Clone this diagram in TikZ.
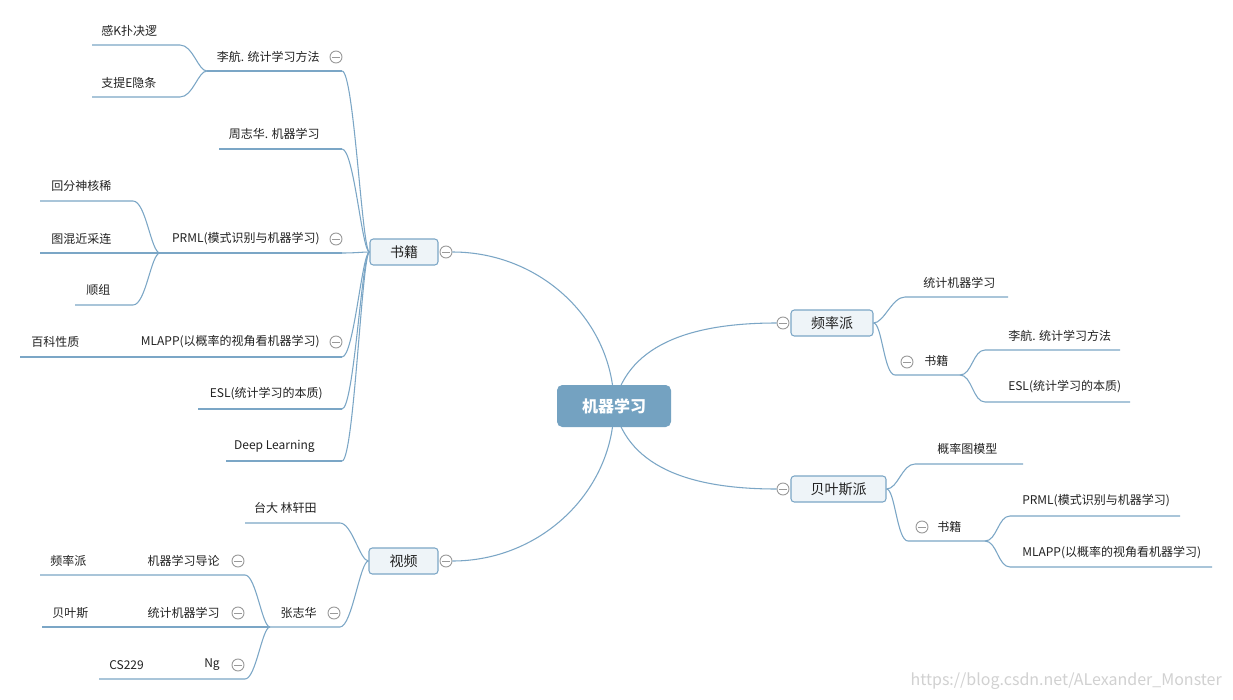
\documentclass[tikz,border=0pt]{standalone}
\usepackage{fontspec}
\setmainfont{Noto Sans CJK SC}
\definecolor{ln}{HTML}{7BA6C6}
\definecolor{nodefill}{HTML}{EEF4F8}
\definecolor{rootfill}{HTML}{74A2C1}
\definecolor{txt}{HTML}{222222}
\definecolor{cgray}{HTML}{9A9A9A}
\begin{document}
\begin{tikzpicture}[x=0.75pt,y=-0.75pt,
  conn/.style={draw=ln, line width=0.8pt},
  lbl/.style={font=\fontsize{9}{11}\selectfont, text=txt, inner sep=0pt},
  lblw/.style={lbl, anchor=west},
  lble/.style={lbl, anchor=east},
  topic/.style={draw=ln, fill=nodefill, line width=0.8pt, rounded corners=2.5pt, minimum height=19.5pt, inner sep=0pt, font=\fontsize{10.5}{12}\selectfont, text=txt},
  rootbox/.style={fill=rootfill, rounded corners=4pt, minimum width=85.5pt, minimum height=31.5pt, inner sep=0pt, font=\fontsize{12}{14}\selectfont\bfseries, text=white},
  minus/.style={circle, draw=cgray, fill=white, line width=0.7pt, minimum size=9pt, inner sep=0pt,
    path picture={\draw[cgray, line width=0.7pt] ([xshift=1.6pt]path picture bounding box.west) -- ([xshift=-1.6pt]path picture bounding box.east);}},
  wmark/.style={font=\fontsize{12}{14}\selectfont, text=black!18, inner sep=0pt, anchor=east}
]
\useasboundingbox[fill=white] (0,0) rectangle (1233,700);

% ---------- coordinates ----------
% books (left)
\coordinate (b1) at (342,71);   \coordinate (b1l) at (207,71);
\coordinate (b11) at (180,45);  \coordinate (b11l) at (92,45);
\coordinate (b12) at (180,97);  \coordinate (b12l) at (92,97);
\coordinate (b2) at (342,149);  \coordinate (b2l) at (219,149);
\coordinate (b3) at (342,253);  \coordinate (b3l) at (160,253);
\coordinate (b31) at (133,201); \coordinate (b31l) at (40,201);
\coordinate (b32l) at (40,253);
\coordinate (b33) at (133,305); \coordinate (b33l) at (75,305);
\coordinate (b4) at (342,357);  \coordinate (b4l) at (130,357); \coordinate (b41l) at (20,357);
\coordinate (b5) at (342,409);  \coordinate (b5l) at (198,409);
\coordinate (b6) at (342,461);  \coordinate (b6l) at (226,461);
% videos (left)
\coordinate (v1) at (340,523);  \coordinate (v1l) at (245,523);
\coordinate (v2) at (340,627);  \coordinate (v2l) at (270,627);
\coordinate (v21) at (245,575); \coordinate (v21l) at (40,575);
\coordinate (v22l) at (42,627);
\coordinate (v23) at (245,679); \coordinate (v23l) at (99,679);
% frequentist (right)
\coordinate (f1) at (905,297);  \coordinate (f1r) at (1008,297);
\coordinate (f2) at (895,375);  \coordinate (f2r) at (960,375);
\coordinate (f21) at (985,350); \coordinate (f21r) at (1120,350);
\coordinate (f22) at (985,402); \coordinate (f22r) at (1130,402);
% bayesian (right)
\coordinate (y1) at (915,464);  \coordinate (y1r) at (1023,464);
\coordinate (y2) at (908,541);  \coordinate (y2r) at (985,541);
\coordinate (y21) at (1010,516); \coordinate (y21r) at (1180,516);
\coordinate (y22) at (1010,567); \coordinate (y22r) at (1212,567);
\coordinate (rc) at (614,406);

% ---------- topic nodes ----------
\node[topic, minimum width=51pt] (B) at (404,252) {书籍};
\node[topic, minimum width=51.75pt] (V) at (403.5,561) {视频};
\node[topic, minimum width=61.5pt] (F) at (832,323) {频率派};
\node[topic, minimum width=71.25pt] (Y) at (838.5,489) {贝叶斯派};
\node[minus] (cB) at (446,252) {};
\node[minus] (cV) at (446,561) {};
\node[minus] (cF) at (783,323) {};
\node[minus] (cY) at (783,489) {};

% ---------- root connectors ----------
\draw[conn] (rc) .. controls (614,321) and (541,252) .. (cB.east);
\draw[conn] (rc) .. controls (614,491) and (541,561) .. (cV.east);
\draw[conn] (rc) .. controls (628,340) and (700,323) .. (cF.west);
\draw[conn] (rc) .. controls (628,472) and (700,489) .. (cY.west);
\node[rootbox] (R) at (614,406) {机器学习};

% ---------- books children ----------
\foreach \c in {b1,b2,b3,b4,b5,b6}
  \draw[conn] (\c) -- (\c l) ;
\draw[conn] (b1) .. controls (354,71) and (362,252) .. (B.west);
\draw[conn] (b2) .. controls (354,149) and (362,252) .. (B.west);
\draw[conn] (b3) .. controls (356,253) and (362,252) .. (B.west);
\draw[conn] (b4) .. controls (354,357) and (362,252) .. (B.west);
\draw[conn] (b5) .. controls (354,409) and (362,252) .. (B.west);
\draw[conn] (b6) .. controls (354,461) and (362,252) .. (B.west);

\draw[conn] (b11l) -- (b11) .. controls (193,45) and (198,71) .. (b1l);
\draw[conn] (b12l) -- (b12) .. controls (193,97) and (198,71) .. (b1l);
\draw[conn] (b31l) -- (b31) .. controls (146,201) and (151,253) .. (b3l);
\draw[conn] (b32l) -- (b3l);
\draw[conn] (b33l) -- (b33) .. controls (146,305) and (151,253) .. (b3l);
\draw[conn] (b41l) -- (b4l);

\node[lble] (tb1) at (320,57) {李航. 统计学习方法};
\node[minus] (cb1) at (336,57) {};
\node[lblw] (tb11) at (101,31) {感K扑决逻};
\node[lblw] (tb12) at (101,83) {支提E隐条};
\node[lble] (tb2) at (320,134) {周志华. 机器学习};
\node[lble] (tb3) at (320,239) {PRML(模式识别与机器学习)};
\node[minus] (cb3) at (336,239) {};
\node[lblw] (tb31) at (51,186) {回分神核稀};
\node[lblw] (tb32) at (51,239) {图混近采连};
\node[lblw] (tb33) at (86,290) {顺组};
\node[lble] (tb4) at (320,342) {MLAPP(以概率的视角看机器学习)};
\node[minus] (cb4) at (336,342) {};
\node[lblw] (tb41) at (31,342) {百科性质};
\node[lble] (tb5) at (323,394) {ESL(统计学习的本质)};
\node[lble] (tb6) at (315,446) {Deep Learning};

% ---------- video children ----------
\draw[conn] (v1l) -- (v1) .. controls (352,523) and (360,561) .. (V.west);
\draw[conn] (v2l) -- (v2) .. controls (352,627) and (360,561) .. (V.west);
\draw[conn] (v21l) -- (v21) .. controls (256,575) and (262,627) .. (v2l);
\draw[conn] (v22l) -- (v2l);
\draw[conn] (v23l) -- (v23) .. controls (256,679) and (262,627) .. (v2l);

\node[lble] (tv1) at (317,508) {台大 林轩田};
\node[lble] (tv2) at (317,613) {张志华};
\node[minus] (cv2) at (334,613) {};
\node[lble] (tv21) at (220,561) {机器学习导论};
\node[minus] (cv21) at (238,561) {};
\node[lblw] (tv211) at (50,561) {频率派};
\node[lble] (tv22) at (220,613) {统计机器学习};
\node[minus] (cv22) at (238,613) {};
\node[lblw] (tv221) at (52,613) {贝叶斯};
\node[lble] (tv23) at (220,665) {Ng};
\node[minus] (cv23) at (238,665) {};
\node[lblw] (tv231) at (109,665) {CS229};

% ---------- frequentist children ----------
\draw[conn] (F.east) .. controls (884,323) and (892,297) .. (f1) -- (f1r);
\draw[conn] (F.east) .. controls (882,323) and (884,375) .. (f2) -- (f2r);
\draw[conn] (f2r) .. controls (972,375) and (973,350) .. (f21) -- (f21r);
\draw[conn] (f2r) .. controls (972,375) and (973,402) .. (f22) -- (f22r);
\node[lblw] (tf1) at (923,283) {统计机器学习};
\node[minus] (cf2) at (907,362) {};
\node[lblw] (tf2) at (924,361) {书籍};
\node[lblw] (tf21) at (1008,336) {李航. 统计学习方法};
\node[lblw] (tf22) at (1008,387) {ESL(统计学习的本质)};

% ---------- bayesian children ----------
\draw[conn] (Y.east) .. controls (898,489) and (902,464) .. (y1) -- (y1r);
\draw[conn] (Y.east) .. controls (895,489) and (897,541) .. (y2) -- (y2r);
\draw[conn] (y2r) .. controls (997,541) and (998,516) .. (y21) -- (y21r);
\draw[conn] (y2r) .. controls (997,541) and (998,567) .. (y22) -- (y22r);
\node[lblw] (ty1) at (937,449) {概率图模型};
\node[minus] (cy2) at (922,527) {};
\node[lblw] (ty2) at (937,527) {书籍};
\node[lblw] (ty21) at (1022,501) {PRML(模式识别与机器学习)};
\node[lblw] (ty22) at (1022,553) {MLAPP(以概率的视角看机器学习)};

% ---------- watermark ----------
\node[wmark] (wm) at (1222,681) {https://blog.csdn.net/ALexander\_Monster};
\end{tikzpicture}
\end{document}
